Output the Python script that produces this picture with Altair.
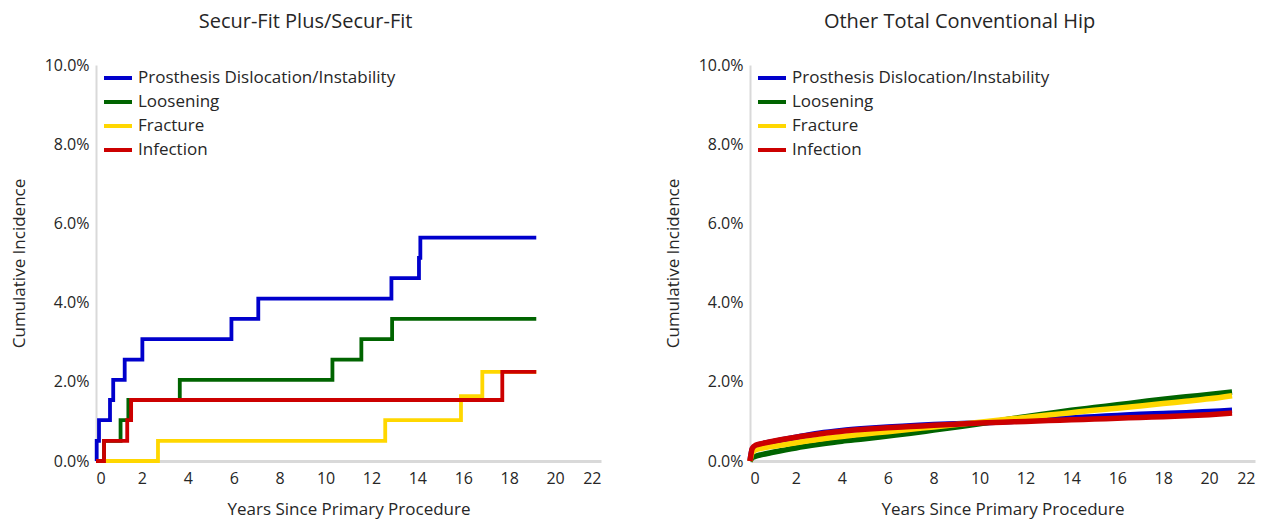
import altair as alt
import pandas as pd

causes = ["Prosthesis Dislocation/Instability", "Loosening", "Fracture", "Infection"]
colors = ["#0000cc", "#006400", "#ffd700", "#cc0000"]

# Secur-Fit Plus/Secur-Fit (step curves), years and cumulative incidence (%)
sf_dis_t = [0, 0.03, 0.13, 0.61, 0.75, 1.25, 2.02, 5.90, 7.07, 12.87, 14.07, 14.13, 19.18]
sf_dis_v = [0, 0.51, 1.03, 1.54, 2.05, 2.56, 3.08, 3.59, 4.10, 4.62, 5.13, 5.64, 5.64]
sf_loo_t = [0, 0.35, 1.07, 1.41, 3.65, 10.30, 11.56, 12.90, 19.18]
sf_loo_v = [0, 0.51, 1.03, 1.54, 2.05, 2.56, 3.08, 3.59, 3.59]
sf_fra_t = [0, 2.70, 12.60, 15.90, 16.83, 19.18]
sf_fra_v = [0, 0.51, 1.03, 1.64, 2.25, 2.25]
sf_inf_t = [0, 0.35, 1.36, 1.53, 17.70, 19.18]
sf_inf_v = [0, 0.51, 1.03, 1.54, 2.25, 2.25]

# Other Total Conventional Hip (smooth curves)
ot_t = [0, 0.1, 0.25, 0.5, 1, 2, 3, 4, 5, 6, 7, 8, 9, 10, 11, 12, 13, 14, 15, 16, 17, 18, 19, 20, 21]
ot_dis_v = [0, 0.30, 0.38, 0.43, 0.49, 0.60, 0.70, 0.77, 0.82, 0.86, 0.89, 0.92, 0.94, 0.96, 0.99,
            1.02, 1.06, 1.09, 1.12, 1.15, 1.18, 1.20, 1.22, 1.25, 1.28]
ot_loo_v = [0, 0.08, 0.12, 0.16, 0.22, 0.33, 0.42, 0.50, 0.56, 0.63, 0.70, 0.78, 0.86, 0.94, 1.03,
            1.12, 1.20, 1.28, 1.35, 1.42, 1.49, 1.56, 1.62, 1.68, 1.74]
ot_fra_v = [0, 0.22, 0.28, 0.32, 0.37, 0.46, 0.55, 0.62, 0.68, 0.74, 0.80, 0.86, 0.92, 0.98, 1.04,
            1.10, 1.16, 1.22, 1.28, 1.33, 1.39, 1.45, 1.51, 1.57, 1.65]
ot_inf_v = [0, 0.32, 0.40, 0.44, 0.50, 0.60, 0.68, 0.75, 0.80, 0.84, 0.87, 0.90, 0.93, 0.96, 0.98,
            1.00, 1.02, 1.04, 1.06, 1.08, 1.10, 1.12, 1.14, 1.17, 1.21]

x_ticks = list(range(0, 23, 2))
y_ticks = [0, 2, 4, 6, 8, 10]
FONT = "Open Sans"


def series_df(cause, t, v):
    return pd.DataFrame({"t": t, "v": v, "cause": cause})


def panel(series, title, interp, sw):
    layers = []
    for cause, t, v in series:
        layers.append(
            alt.Chart(series_df(cause, t, v))
            .mark_line(interpolate=interp, strokeWidth=sw, strokeCap="butt")
            .encode(
                x=alt.X("t:Q", scale=alt.Scale(domain=[0, 22], nice=False),
                        axis=alt.Axis(values=x_ticks, title="Years Since Primary Procedure")),
                y=alt.Y("v:Q", scale=alt.Scale(domain=[0, 10], nice=False),
                        axis=alt.Axis(values=y_ticks, labelExpr="format(datum.value, '.1f') + '%'",
                                      title="Cumulative Incidence")),
                color=alt.Color("cause:N", scale=alt.Scale(domain=causes, range=colors),
                                legend=alt.Legend(title=None, orient="none", legendX=6, legendY=-3,
                                                  symbolType="stroke", symbolStrokeWidth=4,
                                                  symbolSize=784, labelFontSize=17,
                                                  labelFont=FONT, labelColor="#262626",
                                                  labelLimit=0, rowPadding=0, labelOffset=4)),
            )
        )
    return alt.layer(*layers).properties(
        width=505, height=396,
        title=alt.TitleParams(title, fontSize=20, font=FONT, fontWeight="normal",
                              color="#262626", offset=25, frame="bounds", anchor="middle"),
    )


left = panel([(causes[0], sf_dis_t, sf_dis_v), (causes[1], sf_loo_t, sf_loo_v),
              (causes[2], sf_fra_t, sf_fra_v), (causes[3], sf_inf_t, sf_inf_v)],
             "Secur-Fit Plus/Secur-Fit", "step-after", 3.8)
right = panel([(causes[0], ot_t, ot_dis_v), (causes[1], ot_t, ot_loo_v),
               (causes[2], ot_t, ot_fra_v), (causes[3], ot_t, ot_inf_v)],
              "Other Total Conventional Hip", "monotone", 5.5)

chart = (
    alt.hconcat(left, right, spacing=63)
    .resolve_scale(color="independent")
    .resolve_legend(color="independent")
    .properties(padding={"left": 2, "top": 4, "right": 5, "bottom": 2})
    .configure_view(stroke=None)
    .configure_axis(grid=False, ticks=False, domainColor="#d9d9d9", domainWidth=2,
                    labelFont=FONT, labelFontSize=16, labelColor="#262626", labelPadding=7,
                    titleFont=FONT, titleFontSize=17, titleFontWeight="normal",
                    titleColor="#262626")
    .configure_axisX(domainWidth=3, labelPadding=9, titlePadding=15)
    .configure_axisY(titlePadding=16)
)

chart.save("out.html", embed_options={"renderer": "svg", "actions": False})
